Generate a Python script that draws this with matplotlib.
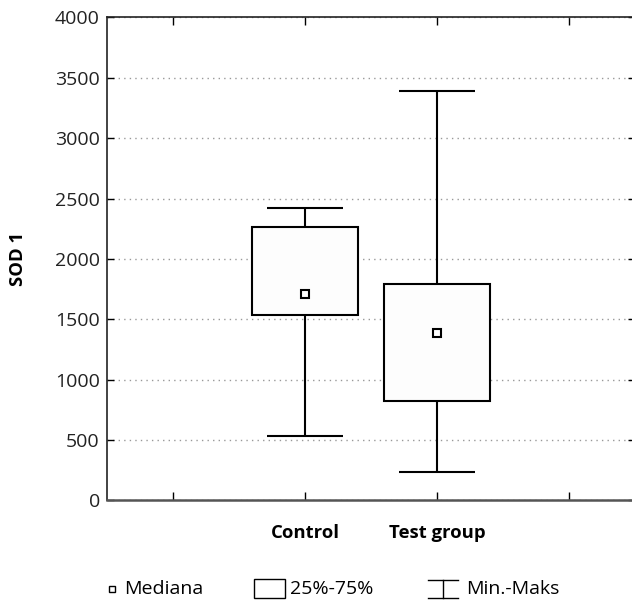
import matplotlib
matplotlib.use("Agg")
import matplotlib.pyplot as plt
from matplotlib.lines import Line2D
from matplotlib.patches import Rectangle

plt.rcParams['font.family'] = ['Open Sans', 'DejaVu Sans']

# dane
groups = ['Control', 'Test group']
positions = [1, 2]
mins = [536, 232]
q1 = [1538, 828]
medians = [1709, 1389]
q3 = [2269, 1789]
maxs = [2421, 3393]

yticks = [0, 500, 1000, 1500, 2000, 2500, 3000, 3500, 4000]
legend_labels = ['Mediana', '25%-75%', 'Min.-Maks']

W, H = 632, 603


# przeliczanie pikseli na wspolrzedne figury
def fx(px):
  return px / W


def fy(py):
  return (H - py) / H


fig = plt.figure(figsize=(W / 100, H / 100), dpi=100)
ax = fig.add_axes([0.169, 0.170, 0.836, 0.801])

ax.set_xlim(-0.5, 3.5)
ax.set_ylim(0, 4000)

# pudelka 25%-75%
ax.bar(positions, [b - a for a, b in zip(q1, q3)], bottom=q1, width=0.8,
       facecolor='#fdfdfd', edgecolor='black', linewidth=1.5, zorder=3)

# wasy min-maks
for x, lo, a, b, hi in zip(positions, mins, q1, q3, maxs):
  ax.vlines(x, lo, a, color='black', lw=1.5, zorder=3)
  ax.vlines(x, b, hi, color='black', lw=1.5, zorder=3)
  ax.hlines([lo, hi], x - 0.29, x + 0.29, color='black', lw=1.5, zorder=3)

# mediany
ax.plot(positions, medians, 's', markersize=6, markerfacecolor='white',
        markeredgecolor='black', markeredgewidth=1.5, zorder=4, linestyle='none')

ax.set_yticks(yticks)
ax.set_yticklabels([str(v) for v in yticks], fontsize=14, color='#222222')
ax.set_xticks([0, 1, 2, 3])
ax.set_xticklabels(['', groups[0], groups[1], ''], fontsize=13.3, fontweight='bold')
ax.tick_params(axis='x', direction='in', length=6, width=1, pad=17,
               top=True, bottom=True)
ax.tick_params(axis='y', direction='in', length=5, width=1, pad=5,
               left=True, right=True)

ax.yaxis.grid(True, linestyle=(0, (1, 3)), color='#999999', linewidth=1)
ax.set_axisbelow(True)
for s in ax.spines.values():
  s.set_linewidth(1.2)
  s.set_color('#222222')
ax.spines['bottom'].set_color('#555555')
ax.spines['bottom'].set_linewidth(1.8)

ax.set_ylabel('SOD 1', fontsize=13.3, fontweight='bold', labelpad=20)

# legenda rysowana recznie pod wykresem
ly = 589
tf = fig.transFigure
fig.add_artist(Line2D([fx(112)], [fy(ly)], marker='s', markersize=5,
                      markerfacecolor='white', markeredgecolor='black',
                      markeredgewidth=1, linestyle='none', transform=tf))
fig.text(fx(124), fy(ly), legend_labels[0], fontsize=14, va='center', ha='left')

fig.add_artist(Rectangle((fx(254), fy(598)), fx(285) - fx(254), fy(579) - fy(598),
                         facecolor='white', edgecolor='black', linewidth=1, transform=tf))
fig.text(fx(290), fy(ly), legend_labels[1], fontsize=14, va='center', ha='left')

wx0, wx1, wy0, wy1 = 428, 458, 580, 598
fig.add_artist(Line2D([fx(wx0), fx(wx1)], [fy(wy0), fy(wy0)], color='black', lw=1, transform=tf))
fig.add_artist(Line2D([fx(wx0), fx(wx1)], [fy(wy1), fy(wy1)], color='black', lw=1, transform=tf))
fig.add_artist(Line2D([fx((wx0 + wx1) / 2)] * 2, [fy(wy0), fy(wy1)], color='black', lw=1, transform=tf))
fig.text(fx(466), fy(ly), legend_labels[2], fontsize=14, va='center', ha='left')

fig.savefig('out.png', dpi=100)
